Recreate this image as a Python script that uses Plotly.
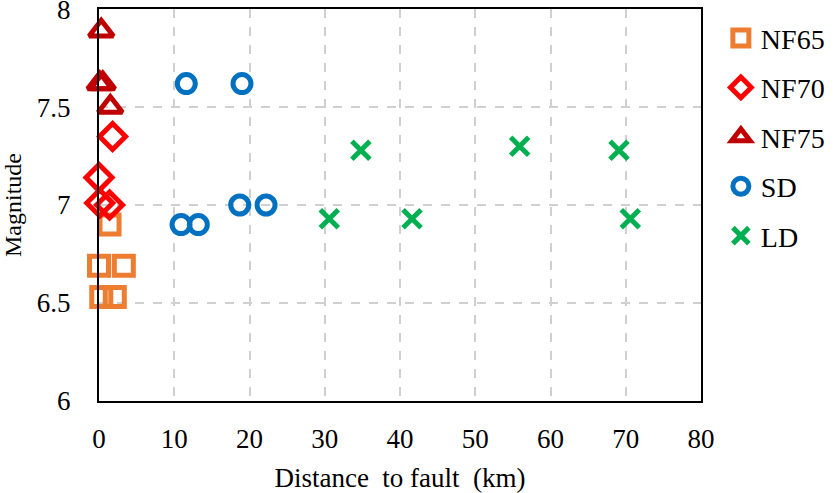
import plotly.graph_objects as go

nf65_x = [1.4, 0.0, 3.3, 0.3, 2.1]
nf65_y = [6.90, 6.69, 6.69, 6.53, 6.53]
nf70_x = [0.0, 0.1, 1.4, 1.8]
nf70_y = [7.14, 7.01, 7.00, 7.35]
nf75_x = [0.3, 0.1, 0.5, 1.5]
nf75_y = [7.89, 7.62, 7.62, 7.50]
sd_x = [11.6, 19.0, 18.7, 22.2, 10.9, 13.2]
sd_y = [7.62, 7.62, 7.00, 7.00, 6.90, 6.90]
ld_x = [34.8, 55.9, 69.1, 30.6, 41.6, 70.6]
ld_y = [7.28, 7.30, 7.28, 6.93, 6.93, 6.93]
y_ticks = [6, 6.5, 7, 7.5, 8]
y_ticktext = ["6", "6.5", "7", "7.5", "8"]

series = [
    ("NF65", nf65_x, nf65_y, "square-open", "#ED7D31", 19),
    ("NF70", nf70_x, nf70_y, "diamond-open", "#FF0000", 20),
    ("NF75", nf75_x, nf75_y, "triangle-up-open", "#C00000", 21),
    ("SD", sd_x, sd_y, "circle-open", "#0070C0", 18),
    ("LD", ld_x, ld_y, "x-thin-open", "#00B050", 18),
]

fig = go.Figure()
for name, xs, ys, sym, col, sz in series:
    fig.add_trace(go.Scatter(
        x=xs, y=ys, mode="markers", name=name, legendgroup=name,
        cliponaxis=False,
        marker=dict(symbol=sym, size=sz, color=col, line=dict(color=col, width=5)),
    ))

font = "Liberation Serif, Times New Roman, serif"
fig.update_layout(
    template="none",
    width=834, height=493,
    margin=dict(l=99, r=133, t=9, b=92, autoexpand=False),
    paper_bgcolor="white", plot_bgcolor="white",
    font=dict(family=font, size=27, color="black"),
    showlegend=True,
    legend=dict(x=1.033, y=0.989, xanchor="left", yanchor="top",
                font=dict(family=font, size=28), tracegroupgap=10,
                itemsizing="trace", bgcolor="rgba(0,0,0,0)", itemwidth=30,
                borderwidth=0),
    xaxis=dict(range=[0, 80], dtick=10, showgrid=True, gridcolor="#D0D0D0",
               griddash="dash", gridwidth=1.5, zeroline=False, automargin=False,
               showline=True, linecolor="black", linewidth=2, mirror=True,
               ticks="", ticklabelstandoff=13, tickfont=dict(size=27),
               title=dict(text="Distance  to fault  (km)", standoff=16,
                          font=dict(family=font, size=27))),
    yaxis=dict(range=[5.999, 8.001], tickmode="array", tickvals=y_ticks,
               ticktext=y_ticktext, showgrid=True, gridcolor="#D0D0D0",
               griddash="dash", gridwidth=1.5, zeroline=False, automargin=False,
               showline=True, linecolor="black", linewidth=2, mirror=True,
               ticks="", ticklabelstandoff=21, tickfont=dict(size=27),
               ticklabeloverflow="allow",
               title=dict(text="Magnitude", standoff=14,
                          font=dict(family=font, size=24))),
)
fig.write_html("out.html", config={"displayModeBar": False},
               post_script="document.body.style.margin='0';")
